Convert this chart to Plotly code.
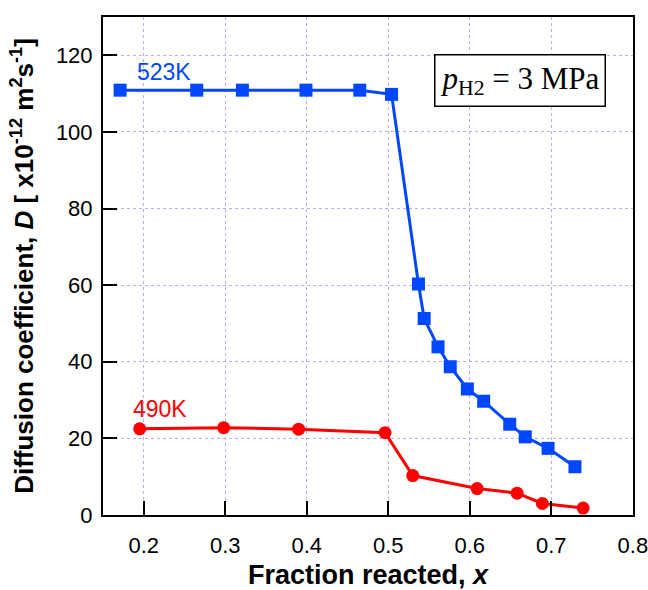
import plotly.graph_objects as go

# Diffusion coefficient vs fraction reacted at two temperatures
x_523 = [0.171, 0.265, 0.321, 0.399, 0.465, 0.504, 0.537, 0.544, 0.561, 0.576,
         0.597, 0.617, 0.649, 0.668, 0.696, 0.729]
d_523 = [110.9, 110.9, 110.9, 110.9, 110.9, 109.8, 60.3, 51.3, 43.9, 38.7,
         32.9, 29.7, 23.7, 20.4, 17.4, 12.6]

x_490 = [0.195, 0.298, 0.390, 0.496, 0.530, 0.609, 0.658, 0.689, 0.739]
d_490 = [22.5, 22.8, 22.4, 21.5, 10.3, 6.9, 5.7, 3.0, 1.8]

x_ticks = [0.2, 0.3, 0.4, 0.5, 0.6, 0.7, 0.8]
y_ticks = [0, 20, 40, 60, 80, 100, 120]

BLUE = "#0047ff"
RED = "#ff0000"
SANS = "Liberation Sans, Arial"

fig = go.Figure()
fig.add_trace(go.Scatter(
    x=x_523, y=d_523, mode="lines+markers", name="523K",
    line=dict(color=BLUE, width=3),
    marker=dict(symbol="square", size=13, color=BLUE),
))
fig.add_trace(go.Scatter(
    x=x_490, y=d_490, mode="lines+markers", name="490K",
    line=dict(color=RED, width=3),
    marker=dict(symbol="circle", size=13, color=RED),
))

axis_common = dict(
    showline=True, linecolor="black", linewidth=2, mirror=True,
    ticks="inside", ticklen=14, tickwidth=2, tickcolor="black",
    showgrid=True, gridcolor="#b0b0ff", griddash="dot", gridwidth=1,
    zeroline=False, automargin=False, ticklabeloverflow="allow",
    tickfont=dict(family=SANS, size=22, color="black"),
)

fig.update_xaxes(
    range=[0.15, 0.8002], tickvals=x_ticks, ticktext=[f"{v:.1f}" for v in x_ticks],
    ticklabelstandoff=10,
    title=dict(text="<b>Fraction reacted, <i>x</i></b>",
               font=dict(family=SANS, size=27, color="black")),
    **axis_common,
)
fig.update_yaxes(
    range=[0, 130], tickvals=y_ticks,
    ticklabelstandoff=4,
    title=dict(text="<b>Diffusion coefficient, <i>D</i> [ x10<sup>-12</sup> m<sup>2</sup>s<sup>-1</sup>]</b>",
               font=dict(family=SANS, size=26, color="black")),
    **axis_common,
)

fig.add_annotation(x=0.189, y=115.6, xref="x", yref="y", text="523K", showarrow=False,
                   xanchor="left", font=dict(family=SANS, size=23, color=BLUE))
fig.add_annotation(x=0.184, y=27.7, xref="x", yref="y", text="490K", showarrow=False,
                   xanchor="left", font=dict(family=SANS, size=23, color=RED))

fig.add_annotation(
    x=0.949, y=0.873, xref="paper", yref="paper", xanchor="right", yanchor="middle",
    text="<i>p</i><sub>H2</sub> = 3 MPa", showarrow=False,
    font=dict(family="Liberation Serif, Times New Roman", size=31, color="black"),
    bordercolor="black", borderwidth=1.5, borderpad=5, bgcolor="white",
)

fig.update_layout(
    width=648, height=590,
    margin=dict(l=103, r=15, t=17, b=75),
    plot_bgcolor="white", paper_bgcolor="white",
    showlegend=False,
)

fig.write_html("out.html")
